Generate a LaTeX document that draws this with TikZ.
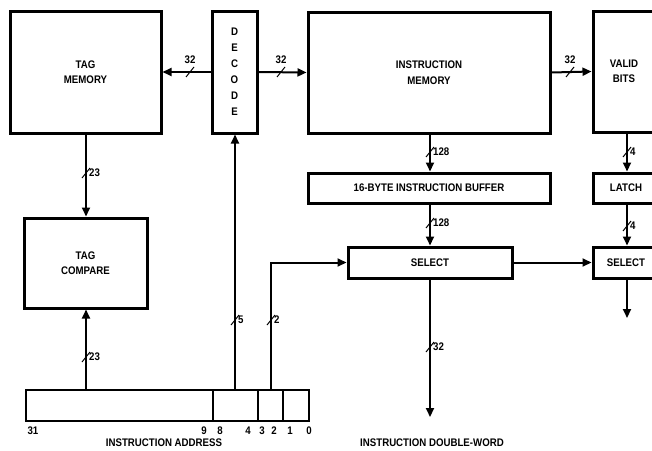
\documentclass[tikz,border=0pt]{standalone}
\usepackage{fontspec}
\setmainfont{Liberation Sans}[FakeStretch=0.88]
\usetikzlibrary{arrows.meta}
\tikzset{
  x=1pt, y=-1pt,
  blk/.style={draw, line width=3pt, rectangle, inner sep=0pt, align=center,
    font=\fontsize{11}{15.5}\selectfont\bfseries},
  conn/.style={line width=2pt, -{Triangle[length=9pt,width=8pt]}},
  slashln/.style={line width=1pt},
  lbl/.style={inner sep=0pt, font=\fontsize{11}{12}\selectfont\bfseries},
}
\newcommand{\bsv}[3]{% vertical bus slash at (x,y) with label
  \draw[slashln] (#1-4,#2+5) -- (#1+4,#2-5);
  \node[lbl, anchor=west] at (#1+3,#2) {#3};}
\newcommand{\bsh}[3]{% horizontal bus slash at (x,y) with label above
  \draw[slashln] (#1-4,#2+5) -- (#1+4,#2-5);
  \node[lbl] at (#1,#2-12) {#3};}
\begin{document}
\begin{tikzpicture}
\useasboundingbox (0,0) rectangle (652,450);
\clip (0,0) rectangle (652,450);
% blocks
\node[blk, minimum width=151pt, minimum height=122pt] (tagmem) at (85.5,72) {TAG\\MEMORY};
\node[blk, minimum width=45pt, minimum height=122pt, font=\fontsize{11}{16}\selectfont\bfseries] (decode) at (234.5,72)
  {D\\E\\C\\O\\D\\E};
\node[blk, minimum width=242pt, minimum height=121pt] (imem) at (429,72.5) {INSTRUCTION\\MEMORY};
\node[blk, minimum width=70pt, minimum height=121pt] (valid) at (628,71.5) {\hspace*{-8pt}VALID\\\hspace*{-8pt}BITS};
\node[blk, minimum width=242pt, minimum height=30pt] (buf) at (429,188) {16-BYTE INSTRUCTION BUFFER};
\node[blk, minimum width=70pt, minimum height=30pt] (latch) at (628,188) {\hspace*{-4pt}LATCH};
\node[blk, minimum width=123pt, minimum height=90pt] (tagcmp) at (85.5,263) {TAG\\COMPARE};
\node[blk, minimum width=164pt, minimum height=31pt] (sel) at (430,262.5) {SELECT};
\node[blk, minimum width=70pt, minimum height=31pt] (sel2) at (628,262.5) {\hspace*{-4pt}SELECT};
% instruction address register
\node[draw, line width=2.8pt, rectangle, minimum width=283pt, minimum height=31pt, inner sep=0pt] (reg) at (167.5,405.5) {};
\draw[line width=2.2pt] (213,390) -- (213,421) (258,390) -- (258,421) (283,390) -- (283,421);
\node[lbl] (b31) at (33,431) {31};
\node[lbl] (b9) at (204,431) {9};
\node[lbl] (b8) at (220,431) {8};
\node[lbl] (b4) at (248,431) {4};
\node[lbl] (b3) at (262,431) {3};
\node[lbl] (b2) at (274,431) {2};
\node[lbl] (b1) at (290,431) {1};
\node[lbl] (b0) at (309,431) {0};
\node[lbl] (addr) at (164,443) {INSTRUCTION ADDRESS};
\node[lbl] (dword) at (432,443) {INSTRUCTION DOUBLE-WORD};
\coordinate (out1) at (430,417);
\coordinate (out2) at (627,318);
% connectors
\draw[conn] (decode.west) -- (tagmem.east);
\draw[conn] (decode.east) -- (imem.west);
\draw[conn] (imem.east) -- (valid.west);
\draw[conn] (tagmem.south -| 86,0) -- (tagcmp.north -| 86,0);
\draw[conn] (reg.north -| 86,0) -- (tagcmp.south -| 86,0);
\draw[conn] (reg.north -| 235,0) -- (decode.south -| 235,0);
\draw[conn] (reg.north -| 271,0) |- (sel.west);
\draw[conn] (imem.south -| 430,0) -- (buf.north -| 430,0);
\draw[conn] (buf.south -| 430,0) -- (sel.north);
\draw[conn] (valid.south -| 627,0) -- (latch.north -| 627,0);
\draw[conn] (latch.south -| 627,0) -- (sel2.north -| 627,0);
\draw[conn] (sel.east) -- (sel2.west);
\draw[conn] (sel.south) -- (out1);
\draw[conn] (sel2.south -| 627,0) -- (out2);
% bus widths
\bsh{190}{72}{32}
\bsh{281}{72}{32}
\bsh{570}{72}{32}
\bsv{86}{173}{23}
\bsv{86}{357}{23}
\bsv{235}{320}{5}
\bsv{271}{320}{2}
\bsv{430}{152}{128}
\bsv{430}{223}{128}
\bsv{627}{152}{4}
\bsv{627}{226}{4}
\bsv{430}{347}{32}
\end{tikzpicture}
\end{document}
